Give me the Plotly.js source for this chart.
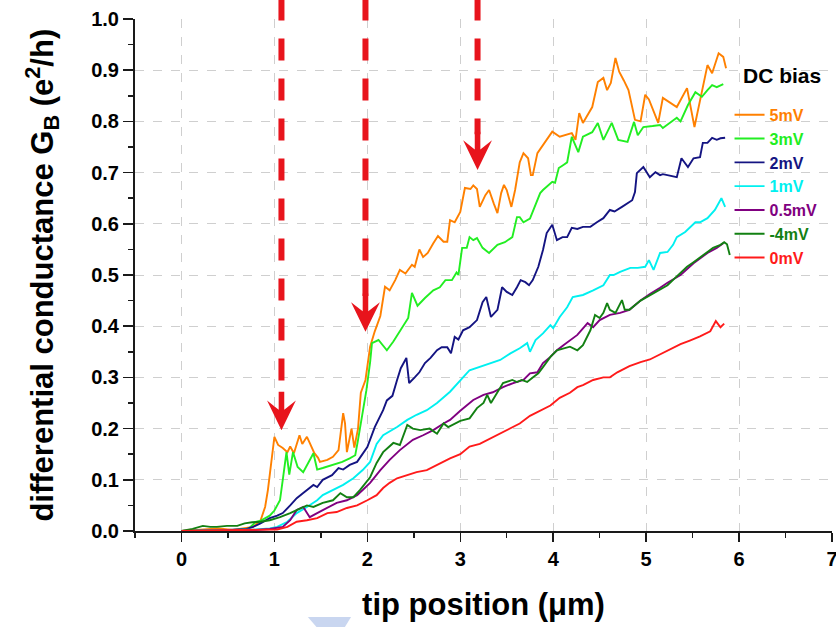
<!DOCTYPE html>
<html><head><meta charset="utf-8">
<script src="https://cdn.plot.ly/plotly-3.0.1.min.js"></script>
<style>html,body{margin:0;padding:0;background:#fff}#chart{width:836px;height:627px}</style>
</head><body><div id="chart"></div>
<script>
// ---- data (tip position in um, conductance in e^2/h) ----
const x5mV=[0,0.2,0.4,0.55,0.7,0.77,0.85,0.9,0.93,0.96,1.0,1.04,1.09,1.14,1.17,1.21,1.27,1.3,1.35,1.38,1.43,1.47,1.49,1.57,1.63,1.69,1.74,1.76,1.78,1.83,1.86,1.9,1.93,1.98,2.03,2.08,2.14,2.19,2.24,2.3,2.35,2.41,2.48,2.51,2.56,2.6,2.65,2.71,2.76,2.82,2.86,2.89,2.94,3.0,3.05,3.11,3.14,3.18,3.21,3.27,3.31,3.36,3.4,3.44,3.47,3.5,3.55,3.59,3.64,3.68,3.73,3.76,3.78,3.83,3.91,3.99,4.07,4.2,4.24,4.28,4.32,4.42,4.48,4.54,4.58,4.62,4.67,4.71,4.76,4.81,4.88,4.94,4.99,5.03,5.13,5.18,5.33,5.44,5.52,5.58,5.66,5.71,5.78,5.83,5.86];
const y5mV=[0,0.002,0.005,0.002,0.006,0.008,0.02,0.047,0.08,0.125,0.184,0.168,0.162,0.154,0.165,0.152,0.187,0.17,0.184,0.172,0.152,0.143,0.135,0.139,0.145,0.158,0.23,0.21,0.154,0.2,0.163,0.2,0.27,0.295,0.36,0.39,0.42,0.477,0.47,0.49,0.51,0.503,0.52,0.516,0.55,0.535,0.543,0.562,0.576,0.565,0.565,0.607,0.603,0.623,0.67,0.668,0.675,0.668,0.633,0.656,0.666,0.64,0.621,0.66,0.676,0.666,0.633,0.666,0.72,0.738,0.728,0.695,0.695,0.738,0.76,0.78,0.77,0.777,0.764,0.816,0.797,0.828,0.877,0.885,0.861,0.875,0.924,0.897,0.88,0.861,0.803,0.80,0.852,0.843,0.797,0.846,0.828,0.865,0.789,0.84,0.91,0.894,0.933,0.926,0.904];

const x3mV=[0,0.3,0.6,0.72,0.76,0.8,0.85,0.9,0.95,1.0,1.06,1.09,1.13,1.16,1.2,1.25,1.31,1.42,1.46,1.52,1.63,1.73,1.81,1.87,1.9,1.95,1.99,2.03,2.05,2.12,2.21,2.28,2.37,2.44,2.48,2.54,2.62,2.71,2.78,2.84,2.91,2.96,2.98,3.02,3.07,3.1,3.14,3.18,3.24,3.31,3.4,3.48,3.56,3.61,3.64,3.68,3.75,3.81,3.86,3.89,3.95,3.99,4.02,4.06,4.11,4.15,4.2,4.27,4.32,4.42,4.48,4.54,4.63,4.7,4.8,4.87,4.91,4.97,5.07,5.15,5.18,5.33,5.37,5.45,5.53,5.6,5.66,5.71,5.76,5.83];
const y3mV=[0,0.001,0.002,0.004,0.012,0.018,0.02,0.025,0.03,0.04,0.06,0.1,0.154,0.11,0.154,0.125,0.115,0.152,0.12,0.123,0.129,0.135,0.142,0.148,0.178,0.23,0.275,0.33,0.367,0.373,0.353,0.37,0.396,0.416,0.465,0.44,0.455,0.47,0.476,0.49,0.49,0.505,0.5,0.553,0.553,0.574,0.568,0.572,0.553,0.543,0.559,0.564,0.574,0.613,0.613,0.603,0.61,0.637,0.66,0.666,0.676,0.682,0.68,0.709,0.715,0.72,0.77,0.74,0.77,0.779,0.797,0.764,0.797,0.764,0.76,0.799,0.773,0.789,0.791,0.793,0.787,0.807,0.8,0.832,0.857,0.848,0.861,0.871,0.867,0.873];

const x2mV=[0,0.4,0.7,0.77,0.85,0.95,1.03,1.09,1.17,1.24,1.31,1.38,1.42,1.46,1.52,1.62,1.69,1.74,1.81,1.89,1.94,2.0,2.08,2.17,2.21,2.27,2.32,2.36,2.42,2.45,2.51,2.56,2.62,2.68,2.75,2.8,2.86,2.9,2.94,2.98,3.03,3.1,3.18,3.24,3.28,3.33,3.4,3.45,3.5,3.56,3.61,3.65,3.7,3.74,3.78,3.84,3.89,3.93,3.99,4.04,4.1,4.15,4.2,4.26,4.32,4.4,4.47,4.54,4.61,4.66,4.74,4.8,4.85,4.88,4.9,4.97,5.04,5.1,5.15,5.18,5.26,5.33,5.38,5.45,5.51,5.58,5.61,5.66,5.71,5.76,5.8,5.85];
const y2mV=[0,0.001,0.004,0.008,0.015,0.025,0.03,0.035,0.05,0.064,0.074,0.084,0.09,0.086,0.1,0.109,0.123,0.12,0.129,0.135,0.148,0.164,0.203,0.236,0.255,0.264,0.295,0.318,0.338,0.289,0.3,0.31,0.328,0.338,0.353,0.359,0.359,0.347,0.379,0.374,0.392,0.398,0.412,0.447,0.457,0.418,0.432,0.476,0.467,0.461,0.476,0.49,0.486,0.48,0.49,0.516,0.549,0.582,0.598,0.568,0.574,0.574,0.592,0.59,0.594,0.594,0.603,0.611,0.627,0.624,0.633,0.64,0.646,0.662,0.699,0.711,0.691,0.701,0.695,0.697,0.694,0.691,0.728,0.711,0.728,0.73,0.758,0.758,0.768,0.764,0.767,0.768];

const x1mV=[0,0.5,0.8,0.95,1.03,1.14,1.24,1.35,1.46,1.52,1.63,1.74,1.85,1.95,2.03,2.1,2.17,2.32,2.43,2.53,2.64,2.75,2.89,2.97,3.03,3.1,3.2,3.31,3.43,3.54,3.64,3.72,3.75,3.81,3.89,3.97,4.0,4.07,4.15,4.21,4.32,4.43,4.54,4.61,4.65,4.72,4.83,4.91,4.99,5.03,5.08,5.15,5.23,5.29,5.33,5.42,5.47,5.53,5.58,5.66,5.74,5.81,5.85];
const y1mV=[0,0.001,0.003,0.005,0.008,0.018,0.035,0.047,0.06,0.07,0.08,0.09,0.103,0.119,0.135,0.17,0.187,0.203,0.217,0.227,0.236,0.25,0.272,0.289,0.3,0.314,0.32,0.328,0.334,0.347,0.357,0.367,0.35,0.373,0.386,0.402,0.396,0.418,0.437,0.457,0.461,0.47,0.48,0.5,0.5,0.506,0.514,0.514,0.516,0.529,0.51,0.543,0.545,0.559,0.574,0.584,0.592,0.603,0.603,0.611,0.627,0.65,0.633];

const x05mV=[0,0.5,0.8,0.95,1.09,1.17,1.24,1.31,1.38,1.46,1.57,1.67,1.78,1.89,1.95,2.03,2.14,2.24,2.35,2.49,2.6,2.71,2.82,2.89,3.0,3.14,3.25,3.35,3.46,3.57,3.68,3.75,3.83,3.89,3.97,4.04,4.11,4.18,4.26,4.37,4.43,4.5,4.61,4.72,4.82,4.94,5.04,5.15,5.23,5.37,5.51,5.66,5.76,5.83];
const y05mV=[0,0.001,0.002,0.004,0.008,0.021,0.041,0.047,0.027,0.035,0.045,0.055,0.06,0.07,0.08,0.094,0.119,0.139,0.158,0.178,0.187,0.197,0.21,0.217,0.235,0.256,0.266,0.271,0.281,0.289,0.295,0.308,0.31,0.328,0.34,0.353,0.363,0.373,0.383,0.406,0.398,0.412,0.422,0.426,0.432,0.45,0.463,0.475,0.485,0.5,0.523,0.543,0.553,0.562];

const xm4mV=[0,0.12,0.23,0.31,0.38,0.49,0.6,0.68,0.76,0.85,0.95,1.06,1.17,1.24,1.35,1.42,1.52,1.63,1.71,1.78,1.85,1.92,2.03,2.1,2.17,2.28,2.35,2.43,2.49,2.57,2.67,2.75,2.82,2.87,3.0,3.1,3.18,3.25,3.29,3.33,3.4,3.46,3.56,3.61,3.66,3.72,3.78,3.84,3.89,3.97,4.04,4.11,4.18,4.26,4.32,4.4,4.45,4.5,4.54,4.58,4.61,4.67,4.74,4.77,4.82,4.94,5.04,5.15,5.23,5.31,5.37,5.44,5.51,5.58,5.66,5.72,5.8,5.84,5.87,5.9];
const ym4mV=[0,0.004,0.01,0.008,0.008,0.01,0.01,0.015,0.017,0.018,0.021,0.027,0.035,0.041,0.05,0.047,0.055,0.06,0.074,0.066,0.066,0.08,0.105,0.133,0.154,0.172,0.168,0.207,0.2,0.197,0.2,0.19,0.21,0.203,0.215,0.22,0.24,0.25,0.266,0.25,0.27,0.289,0.295,0.291,0.295,0.291,0.3,0.308,0.32,0.34,0.353,0.357,0.36,0.353,0.363,0.392,0.422,0.416,0.426,0.445,0.432,0.426,0.451,0.432,0.432,0.45,0.46,0.472,0.48,0.494,0.504,0.516,0.525,0.535,0.545,0.553,0.559,0.564,0.56,0.539];

const x0mV=[0,0.5,0.9,1.03,1.14,1.24,1.35,1.46,1.57,1.67,1.78,1.89,2.0,2.1,2.17,2.24,2.32,2.43,2.53,2.64,2.75,2.89,3.0,3.1,3.21,3.32,3.43,3.54,3.64,3.75,3.86,3.97,4.07,4.18,4.26,4.32,4.43,4.54,4.61,4.69,4.82,4.94,5.04,5.15,5.26,5.37,5.47,5.58,5.69,5.75,5.8,5.84];
const y0mV=[0,0.001,0.002,0.003,0.008,0.018,0.021,0.025,0.035,0.037,0.045,0.05,0.06,0.07,0.084,0.094,0.103,0.109,0.115,0.119,0.129,0.142,0.15,0.165,0.17,0.18,0.19,0.2,0.21,0.225,0.235,0.245,0.26,0.27,0.281,0.285,0.295,0.3,0.3,0.31,0.322,0.33,0.335,0.345,0.355,0.365,0.372,0.38,0.39,0.41,0.398,0.405];

const seriesNames=['5mV','3mV','2mV','1mV','0.5mV','-4mV','0mV'];
const seriesColors=['#ff8000','#22ee22','#141482','#00f0f0','#800080','#128012','#ff1a1a'];
const seriesX=[x5mV,x3mV,x2mV,x1mV,x05mV,xm4mV,x0mV];
const seriesY=[y5mV,y3mV,y2mV,y1mV,y05mV,ym4mV,y0mV];

const xTickVals=[0,1,2,3,4,5,6,7];
const yTickVals=[0,0.1,0.2,0.3,0.4,0.5,0.6,0.7,0.8,0.9,1.0];
const arrowX=[1.076,1.98,3.186];
const arrowTipY=[0.197,0.389,0.705];

// ---- figure ----
const FONT='Liberation Sans, Arial, Helvetica, sans-serif';
const AXC='#1a1a1a';
const traces=seriesNames.map((n,i)=>({
  type:'scatter', mode:'lines', x:seriesX[i], y:seriesY[i],
  name:'<b><span style="color:'+seriesColors[i]+'">'+n+'</span></b>',
  line:{color:seriesColors[i], width:1.9}
}));

const shapes=[];
arrowX.forEach((ax,i)=>{
  const t=arrowTipY[i];
  shapes.push({type:'line', xref:'x', yref:'paper', x0:ax, x1:ax, y0:1.04, y1:t+0.07,
    line:{color:'#e8141c', width:6, dash:'22px,18px'}});
  const hw=0.155, sw=0.03;
  const p='M '+ax+','+t+' L '+(ax+hw)+','+(t+0.058)+' L '+(ax+sw)+','+(t+0.04)+' L '+(ax+sw)+','+(t+0.075)+
    ' L '+(ax-sw)+','+(t+0.075)+' L '+(ax-sw)+','+(t+0.04)+' L '+(ax-hw)+','+(t+0.058)+' Z';
  shapes.push({type:'path', xref:'x', yref:'y', path:p, fillcolor:'#e8141c', line:{width:0}});
});
// faint light-blue smudge present in the source image below the plot
shapes.push({type:'path', xref:'paper', yref:'paper',
  path:'M 0.248,-0.168 L 0.310,-0.168 L 0.300,-0.19 L 0.262,-0.19 Z',
  fillcolor:'#c9d6f0', line:{width:0}});

const tickFont={family:FONT, size:20, color:'#000', weight:'bold'};
const layout={
  width:836, height:627,
  margin:{l:135, r:4, t:19, b:96},
  paper_bgcolor:'#fff', plot_bgcolor:'#fff',
  showlegend:true,
  xaxis:{range:[-0.5,7], tickmode:'array', tickvals:xTickVals, ticktext:xTickVals.map(String),
    ticks:'outside', ticklen:9, tickwidth:1.5, tickcolor:AXC, ticklabeloverflow:'allow',
    showline:true, linecolor:AXC, linewidth:2, zeroline:false,
    showgrid:true, gridcolor:'#cfcfcf', gridwidth:1, griddash:'dash',
    minor:{dtick:0.5, tick0:0, ticks:'outside', ticklen:5, tickwidth:1.5, tickcolor:AXC, showgrid:false},
    tickfont:tickFont,
    title:{text:'tip position (\u03bcm)', font:{family:FONT, size:31, color:'#000', weight:'bold'}, standoff:24}},
  yaxis:{range:[0,1], tickmode:'array', tickvals:yTickVals, ticktext:yTickVals.map(v=>v.toFixed(1)),
    ticks:'outside', ticklen:10, tickwidth:1.5, tickcolor:AXC,
    showline:true, linecolor:AXC, linewidth:2, zeroline:false,
    showgrid:true, gridcolor:'#cfcfcf', gridwidth:1, griddash:'dash',
    minor:{dtick:0.05, tick0:0, ticks:'outside', ticklen:5, tickwidth:1.5, tickcolor:AXC, showgrid:false},
    tickfont:tickFont},
  xaxis2:{overlaying:'x', side:'top', anchor:'y', range:[-0.5,7], tickmode:'array', tickvals:xTickVals,
    ticks:'inside', ticklen:10, tickwidth:1.5, tickcolor:AXC, showticklabels:false,
    showline:true, linecolor:AXC, linewidth:2, showgrid:false, zeroline:false,
    minor:{dtick:0.5, tick0:0, ticks:'inside', ticklen:6, tickwidth:1.5, tickcolor:AXC, showgrid:false}},
  yaxis2:{overlaying:'y', side:'right', anchor:'x', range:[0,1], tickmode:'array', tickvals:yTickVals,
    ticks:'inside', ticklen:10, tickwidth:1.5, tickcolor:AXC, showticklabels:false,
    showline:true, linecolor:AXC, linewidth:2, showgrid:false, zeroline:false,
    minor:{dtick:0.05, tick0:0, ticks:'inside', ticklen:5, tickwidth:1.5, tickcolor:AXC, showgrid:false}},
  legend:{x:0.853, xanchor:'left', y:0.846, yanchor:'top', bgcolor:'rgba(0,0,0,0)', borderwidth:0,
    font:{family:FONT, size:16, color:'#000'}, itemwidth:30, traceorder:'normal', tracegroupgap:0},
  annotations:[
    {xref:'paper', yref:'paper', x:0.928, y:0.889, xanchor:'center', yanchor:'middle', showarrow:false,
     text:'<b>DC bias</b>', font:{family:FONT, size:21, color:'#000'}},
    {xref:'paper', yref:'paper', x:-0.134, y:0.5, xanchor:'center', yanchor:'middle', showarrow:false, textangle:-90,
     text:'<b>differential conductance G<sub>B</sub> (e<sup>2</sup>/h)</b>', font:{family:FONT, size:31, color:'#000'}}],
  shapes:shapes
};
Plotly.newPlot('chart', traces, layout, {displayModeBar:false, staticPlot:true});
</script></body></html>
